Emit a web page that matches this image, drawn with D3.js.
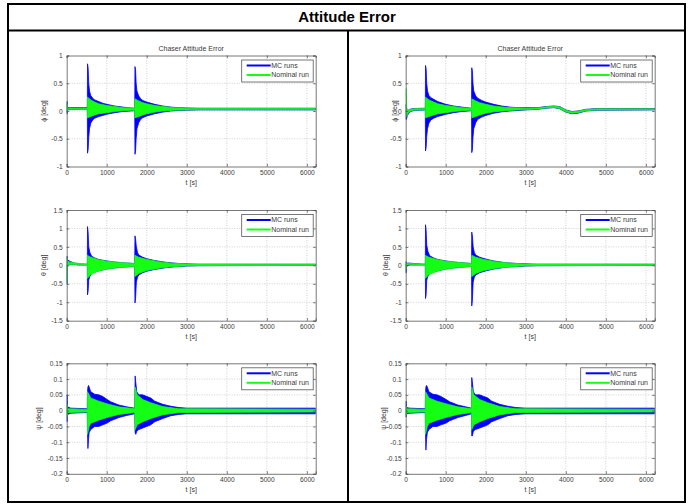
<!DOCTYPE html>
<html>
<head>
<meta charset="utf-8">
<script src="https://cdn.jsdelivr.net/npm/d3@7"></script>
<style>
  body { margin: 0; background: #fff; }
  svg { display: block; font-family: "Liberation Sans", Arial, sans-serif; }
</style>
</head>
<body>
<svg id="chart" width="690" height="504"></svg>
<script>
// envelopes of the dense oscillating signals: [t, upper, lower]
var phiLeftMC = [[0,0.17,-0.05],[14,0.17,-0.05],[20,0.06,0.02],[100,0.06,0.025],[515,0.06,0.03],[520,0.85,-0.76],[535,0.78,-0.7],[550,0.5,-0.48],[570,0.36,-0.32],[600,0.28,-0.22],[650,0.23,-0.16],[700,0.2,-0.13],[800,0.17,-0.1],[900,0.14,-0.08],[1000,0.12,-0.06],[1200,0.09,-0.03],[1400,0.07,-0.01],[1600,0.055,0.0],[1700,0.05,0.005],[1705,0.8,-0.78],[1720,0.74,-0.72],[1735,0.5,-0.5],[1755,0.36,-0.32],[1800,0.27,-0.21],[1850,0.22,-0.15],[1900,0.19,-0.12],[2000,0.16,-0.09],[2200,0.12,-0.05],[2400,0.09,-0.02],[2600,0.07,0.0],[2800,0.06,0.01],[3000,0.055,0.015],[3300,0.05,0.02],[6220,0.05,0.02]];
var phiLeftNom = [[0,0.13,-0.02],[14,0.13,-0.02],[20,0.05,0.03],[515,0.05,0.03],[520,0.25,-0.12],[600,0.2,-0.1],[700,0.16,-0.07],[800,0.13,-0.05],[1000,0.1,-0.03],[1200,0.08,-0.01],[1400,0.06,0.005],[1700,0.05,0.015],[1705,0.22,-0.12],[1800,0.18,-0.1],[1900,0.15,-0.07],[2000,0.13,-0.05],[2200,0.1,-0.02],[2400,0.08,0.0],[2700,0.06,0.015],[3000,0.05,0.02],[3300,0.045,0.025],[6220,0.045,0.025]];
var phiRightMC = [[0,0.12,-0.15],[20,0.06,-0.15],[40,0.0,-0.08],[100,0.03,-0.02],[200,0.045,0.01],[490,0.05,0.02],[495,0.82,-0.72],[510,0.76,-0.66],[525,0.5,-0.46],[545,0.36,-0.32],[580,0.28,-0.22],[630,0.24,-0.16],[700,0.21,-0.13],[800,0.17,-0.1],[1000,0.12,-0.06],[1200,0.09,-0.03],[1400,0.07,-0.01],[1645,0.05,0.005],[1650,0.78,-0.75],[1665,0.72,-0.7],[1680,0.5,-0.48],[1700,0.36,-0.32],[1750,0.27,-0.21],[1800,0.23,-0.15],[1900,0.19,-0.11],[2000,0.16,-0.08],[2200,0.12,-0.04],[2400,0.09,-0.015],[2600,0.07,0.0],[2800,0.06,0.01],[3000,0.06,0.02],[3300,0.06,0.03],[3500,0.08,0.05],[3700,0.09,0.06],[3850,0.08,0.04],[4000,0.02,-0.02],[4150,-0.01,-0.05],[4300,0.0,-0.04],[4500,0.03,0.0],[4800,0.045,0.015],[6220,0.045,0.02]];
var phiRightNom = [[0,0.4,-0.05],[15,0.4,-0.05],[25,0.05,-0.1],[50,0.01,-0.05],[100,0.025,-0.01],[200,0.04,0.015],[490,0.045,0.025],[495,0.25,-0.12],[580,0.2,-0.1],[700,0.16,-0.07],[800,0.13,-0.05],[1000,0.1,-0.03],[1200,0.08,-0.01],[1400,0.06,0.005],[1645,0.05,0.015],[1650,0.22,-0.12],[1750,0.18,-0.1],[1850,0.15,-0.07],[2000,0.12,-0.04],[2200,0.09,-0.015],[2500,0.065,0.005],[2800,0.055,0.02],[3000,0.05,0.025],[3300,0.055,0.035],[3500,0.075,0.055],[3700,0.085,0.065],[3850,0.075,0.045],[4000,0.015,-0.015],[4150,-0.015,-0.04],[4300,-0.005,-0.03],[4500,0.025,0.005],[4800,0.04,0.02],[6220,0.04,0.025]];

var thetaLeftMC = [[0,0.25,-0.5],[10,0.25,-0.5],[15,0.15,0.0],[100,0.1,0.03],[200,0.06,0.02],[300,0.04,0.01],[515,0.03,0.01],[520,1.05,-0.8],[535,0.9,-0.7],[550,0.5,-0.4],[580,0.35,-0.3],[620,0.25,-0.22],[700,0.2,-0.18],[800,0.16,-0.15],[1000,0.12,-0.1],[1200,0.09,-0.07],[1400,0.07,-0.05],[1700,0.05,-0.03],[1705,0.8,-1.02],[1720,0.72,-0.9],[1740,0.5,-0.45],[1770,0.35,-0.32],[1800,0.28,-0.26],[1900,0.22,-0.2],[2000,0.18,-0.16],[2200,0.13,-0.11],[2500,0.08,-0.06],[2800,0.05,-0.03],[3000,0.04,-0.02],[3300,0.03,-0.01],[6220,0.03,0.0]];
var thetaLeftNom = [[0,0.2,-0.45],[10,0.2,-0.45],[15,0.12,0.0],[100,0.08,0.03],[515,0.03,0.01],[520,0.27,-0.35],[600,0.22,-0.25],[800,0.15,-0.15],[1000,0.11,-0.1],[1300,0.08,-0.06],[1700,0.05,-0.03],[1705,0.27,-0.3],[1800,0.22,-0.22],[2000,0.16,-0.14],[2300,0.1,-0.08],[2600,0.06,-0.04],[3000,0.035,-0.01],[6220,0.03,0.0]];
var thetaRightMC = [[0,0.1,-0.2],[12,0.1,-0.2],[18,0.06,-0.02],[100,0.06,0.01],[300,0.04,0.01],[490,0.03,0.01],[495,1.1,-0.9],[510,0.95,-0.8],[525,0.55,-0.4],[555,0.38,-0.3],[600,0.26,-0.22],[700,0.2,-0.18],[800,0.16,-0.15],[1000,0.12,-0.1],[1200,0.09,-0.07],[1400,0.07,-0.05],[1645,0.05,-0.03],[1650,0.9,-1.1],[1665,0.8,-0.95],[1685,0.5,-0.45],[1715,0.35,-0.32],[1750,0.28,-0.26],[1850,0.22,-0.2],[2000,0.17,-0.15],[2200,0.12,-0.1],[2500,0.07,-0.05],[2800,0.05,-0.03],[3000,0.04,-0.02],[3300,0.03,-0.01],[6220,0.03,0.0]];
var thetaRightNom = [[0,0.1,-0.1],[12,0.1,-0.1],[18,0.05,0.0],[100,0.05,0.02],[490,0.03,0.01],[495,0.27,-0.35],[580,0.22,-0.25],[800,0.15,-0.15],[1000,0.11,-0.1],[1300,0.08,-0.06],[1645,0.05,-0.03],[1650,0.27,-0.3],[1750,0.22,-0.22],[1950,0.16,-0.14],[2250,0.1,-0.08],[2600,0.06,-0.04],[3000,0.035,-0.01],[6220,0.03,0.0]];

var psiLeftMC = [[0,0.05,-0.035],[12,0.05,-0.035],[20,0.012,-0.012],[100,0.008,-0.008],[515,0.006,-0.006],[520,0.06,-0.07],[530,0.075,-0.12],[545,0.08,-0.09],[560,0.075,-0.07],[600,0.06,-0.06],[700,0.052,-0.05],[800,0.05,-0.05],[900,0.045,-0.045],[1000,0.036,-0.04],[1100,0.028,-0.032],[1300,0.018,-0.022],[1500,0.012,-0.015],[1700,0.008,-0.01],[1710,0.11,-0.07],[1725,0.09,-0.075],[1750,0.06,-0.065],[1800,0.05,-0.06],[1900,0.05,-0.055],[2000,0.045,-0.05],[2100,0.04,-0.045],[2200,0.03,-0.035],[2400,0.02,-0.025],[2600,0.014,-0.016],[2800,0.01,-0.012],[3000,0.008,-0.01],[6220,0.008,-0.01]];
var psiLeftNom = [[0,0.02,-0.02],[12,0.02,-0.02],[20,0.006,-0.006],[515,0.004,-0.004],[520,0.06,-0.075],[560,0.05,-0.05],[600,0.04,-0.04],[800,0.03,-0.03],[1000,0.022,-0.022],[1300,0.012,-0.012],[1700,0.006,-0.006],[1710,0.075,-0.06],[1760,0.05,-0.045],[1900,0.035,-0.035],[2100,0.025,-0.025],[2400,0.013,-0.013],[2800,0.006,-0.006],[6220,0.004,-0.004]];
var psiRightMC = [[0,0.03,-0.02],[12,0.03,-0.02],[20,0.01,-0.01],[100,0.008,-0.008],[490,0.006,-0.006],[495,0.06,-0.07],[505,0.075,-0.125],[520,0.08,-0.09],[540,0.075,-0.07],[580,0.06,-0.06],[680,0.052,-0.05],[780,0.05,-0.05],[880,0.045,-0.045],[1000,0.036,-0.04],[1100,0.028,-0.032],[1300,0.018,-0.022],[1500,0.012,-0.015],[1645,0.008,-0.01],[1650,0.105,-0.08],[1665,0.09,-0.08],[1690,0.06,-0.065],[1740,0.05,-0.06],[1850,0.05,-0.055],[1950,0.045,-0.05],[2050,0.04,-0.045],[2150,0.03,-0.035],[2350,0.02,-0.025],[2550,0.014,-0.016],[2750,0.01,-0.012],[3000,0.008,-0.01],[6220,0.008,-0.01]];
var psiRightNom = [[0,0.015,-0.015],[12,0.015,-0.015],[20,0.006,-0.006],[490,0.004,-0.004],[495,0.06,-0.075],[540,0.05,-0.05],[580,0.04,-0.04],[780,0.03,-0.03],[1000,0.022,-0.022],[1300,0.012,-0.012],[1645,0.006,-0.006],[1650,0.075,-0.06],[1700,0.05,-0.045],[1850,0.035,-0.035],[2050,0.025,-0.025],[2350,0.013,-0.013],[2750,0.006,-0.006],[6220,0.004,-0.004]];

var xTicks = [0, 1000, 2000, 3000, 4000, 5000, 6000];
var phiTicks = [-1, -0.5, 0, 0.5, 1];
var thetaTicks = [-1.5, -1, -0.5, 0, 0.5, 1, 1.5];
var psiTicks = [-0.2, -0.15, -0.1, -0.05, 0, 0.05, 0.1, 0.15];
var seriesNames = ["MC runs", "Nominal run"];
var seriesColors = ["#0000ff", "#14ff14"];

var svg = d3.select("#chart");
var W = 690, H = 504;

svg.append("rect").attr("width", W).attr("height", H).attr("fill", "#fff");

// table frame
var frame = svg.append("g").attr("stroke", "#000").attr("stroke-width", 2).attr("fill", "none");
frame.append("rect").attr("x", 8).attr("y", 4).attr("width", 677).attr("height", 498);
frame.append("line").attr("x1", 8).attr("x2", 685).attr("y1", 30.5).attr("y2", 30.5);
frame.append("line").attr("x1", 348).attr("x2", 348).attr("y1", 30.5).attr("y2", 502);
svg.append("text").attr("x", 347).attr("y", 22).attr("text-anchor", "middle")
  .attr("font-size", "15px").attr("font-weight", "bold").text("Attitude Error");

var panels = [
  {mc: phiLeftMC, nom: phiLeftNom, left: 66.7, top: 55.5, bottom: 166.5, dom: [-1, 1], ticks: phiTicks, label: "ϕ [deg]", labDx: 23.5, title: true},
  {mc: phiRightMC, nom: phiRightNom, left: 405.7, top: 55.5, bottom: 166.5, dom: [-1, 1], ticks: phiTicks, label: "ϕ [deg]", labDx: 11.5, title: true},
  {mc: thetaLeftMC, nom: thetaLeftNom, left: 66.7, top: 210, bottom: 320.7, dom: [-1.5, 1.5], ticks: thetaTicks, label: "θ [deg]", labDx: 23.5},
  {mc: thetaRightMC, nom: thetaRightNom, left: 405.7, top: 210, bottom: 320.7, dom: [-1.5, 1.5], ticks: thetaTicks, label: "θ [deg]", labDx: 20.5},
  {mc: psiLeftMC, nom: psiLeftNom, left: 66.7, top: 363.3, bottom: 473.8, dom: [-0.2, 0.15], ticks: psiTicks, label: "ψ [deg]", labDx: 28.5},
  {mc: psiRightMC, nom: psiRightNom, left: 405.7, top: 363.3, bottom: 473.8, dom: [-0.2, 0.15], ticks: psiTicks, label: "ψ [deg]", labDx: 22.5}
];

var plotW = 249;
var txt = "#3a3a3a";

panels.forEach(function (p, i) {
  var x = d3.scaleLinear().domain([0, 6220]).range([p.left, p.left + plotW]);
  var y = d3.scaleLinear().domain(p.dom).range([p.bottom, p.top]);
  var g = svg.append("g");

  g.append("clipPath").attr("id", "clip" + i).append("rect")
    .attr("x", p.left).attr("y", p.top).attr("width", plotW).attr("height", p.bottom - p.top);

  // grid
  var grid = g.append("g").attr("stroke", "#b0b0b0").attr("stroke-width", 0.6).attr("stroke-dasharray", "1,1.5");
  grid.selectAll(".gx").data(xTicks.slice(1)).enter().append("line")
    .attr("x1", function (d) { return x(d); }).attr("x2", function (d) { return x(d); })
    .attr("y1", p.top).attr("y2", p.bottom);
  grid.selectAll(".gy").data(p.ticks.slice(1, -1)).enter().append("line")
    .attr("y1", function (d) { return y(d); }).attr("y2", function (d) { return y(d); })
    .attr("x1", p.left).attr("x2", p.left + plotW);

  var area = d3.area()
    .x(function (d) { return x(d[0]); })
    .y0(function (d) { return y(d[2]); })
    .y1(function (d) { return y(d[1]); });

  var plot = g.append("g").attr("clip-path", "url(#clip" + i + ")");
  [p.mc, p.nom].forEach(function (s, k) {
    plot.append("path").datum(s).attr("d", area)
      .attr("fill", seriesColors[k]).attr("stroke", seriesColors[k]).attr("stroke-width", 0.8);
  });

  // axes (ticks inward, MATLAB style)
  var fmt = function (d) { return String(d); };
  var ax = g.append("g").attr("transform", "translate(0," + p.bottom + ")")
    .call(d3.axisBottom(x).tickValues(xTicks).tickSize(-2.5).tickPadding(4).tickFormat(fmt));
  var ay = g.append("g").attr("transform", "translate(" + p.left + ",0)")
    .call(d3.axisLeft(y).tickValues(p.ticks).tickSize(-2.5).tickPadding(4).tickFormat(fmt));
  g.append("g").attr("transform", "translate(0," + p.top + ")")
    .call(d3.axisTop(x).tickValues(xTicks).tickSize(-2.5).tickFormat(""));
  g.append("g").attr("transform", "translate(" + (p.left + plotW) + ",0)")
    .call(d3.axisRight(y).tickValues(p.ticks).tickSize(-2.5).tickFormat(""));
  g.selectAll(".domain, .tick line").attr("stroke", "#555").attr("stroke-width", 0.8);
  g.selectAll(".tick text").attr("fill", txt).attr("font-size", "6.6px")
    .attr("font-family", "Liberation Sans, Arial, sans-serif");
  ax.selectAll(".tick text").attr("dy", "0.7em");

  // labels
  g.append("text").attr("x", p.left + plotW / 2).attr("y", p.bottom + 18.5)
    .attr("text-anchor", "middle").attr("font-size", "7px").attr("fill", txt).text("t [s]");
  g.append("text").attr("transform", "translate(" + (p.left - p.labDx) + "," + ((p.top + p.bottom) / 2) + ") rotate(-90)")
    .attr("text-anchor", "middle").attr("dy", "0.35em").attr("font-size", "7px").attr("fill", txt).text(p.label);
  if (p.title) {
    g.append("text").attr("x", p.left + plotW / 2).attr("y", p.top - 5)
      .attr("text-anchor", "middle").attr("font-size", "7px").attr("fill", txt).text("Chaser Attitude Error");
  }

  // legend
  var lx = p.left + plotW - 74, ly = p.top + 4.5;
  var leg = g.append("g").attr("transform", "translate(" + lx + "," + ly + ")");
  leg.append("rect").attr("width", 71.5).attr("height", 22).attr("fill", "#fff")
    .attr("stroke", "#555").attr("stroke-width", 0.8);
  seriesNames.forEach(function (n, k) {
    var yy = 5.5 + k * 9.5;
    leg.append("line").attr("x1", 5).attr("x2", 29).attr("y1", yy).attr("y2", yy)
      .attr("stroke", seriesColors[k]).attr("stroke-width", 2);
    leg.append("text").attr("x", 29.5).attr("y", yy).attr("dy", "0.35em")
      .attr("font-size", "7px").attr("fill", txt).text(n);
  });
});
</script>
</body>
</html>
